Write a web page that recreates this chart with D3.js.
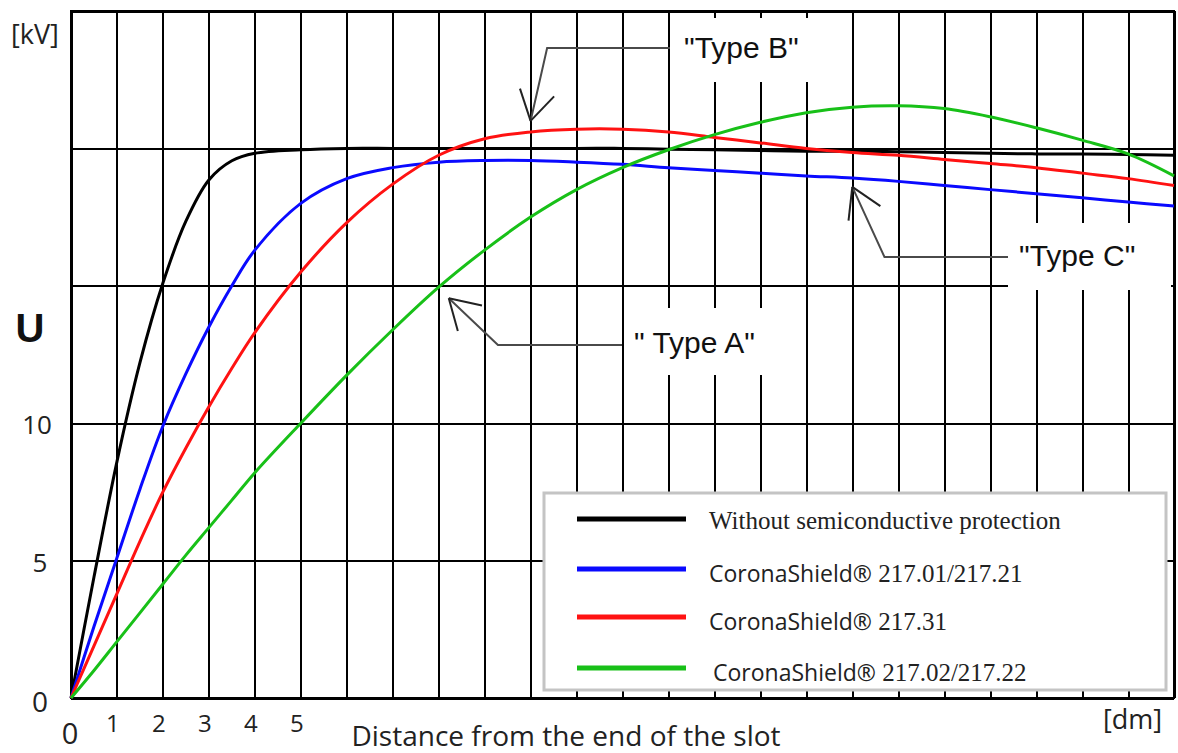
<!DOCTYPE html>
<html>
<head>
<meta charset="utf-8">
<script src="https://cdnjs.cloudflare.com/ajax/libs/d3/7.8.5/d3.min.js"></script>
<style>
  body { margin: 0; background: #fff; }
  svg { display: block; }
</style>
</head>
<body>
<div id="chart"></div>
<script>
// values: distance in dm, U in kV
var distance = [0, 0.5, 1, 1.5, 2, 2.5, 3, 3.5, 4, 5, 6, 7, 8, 9, 10, 11, 12, 13, 14, 15, 16, 17, 18, 19, 20, 21, 22, 23, 24];
var noProtection = [0, 4.4, 8.6, 12.2, 15.1, 17.35, 18.85, 19.55, 19.82, 19.95, 20.0, 20.0, 20.0, 20.0, 20.0, 20.0, 20.0, 19.97, 19.95, 19.92, 19.9, 19.9, 19.88, 19.85, 19.82, 19.8, 19.8, 19.78, 19.75];
var cs217_01 = [0, 2.6, 5.1, 7.6, 9.9, 11.8, 13.5, 15.0, 16.3, 18.0, 18.9, 19.3, 19.5, 19.56, 19.56, 19.5, 19.42, 19.3, 19.2, 19.1, 19.0, 18.92, 18.8, 18.65, 18.5, 18.35, 18.2, 18.05, 17.9];
var cs217_31 = [0, 1.9, 3.8, 5.7, 7.5, 9.1, 10.6, 12.0, 13.3, 15.5, 17.3, 18.7, 19.75, 20.35, 20.6, 20.7, 20.7, 20.6, 20.4, 20.2, 20.0, 19.85, 19.75, 19.6, 19.45, 19.3, 19.1, 18.9, 18.65];
var cs217_02 = [0, 1.0, 2.05, 3.1, 4.15, 5.2, 6.2, 7.2, 8.2, 10.0, 11.75, 13.4, 14.95, 16.3, 17.5, 18.5, 19.3, 19.95, 20.5, 20.95, 21.3, 21.5, 21.55, 21.45, 21.15, 20.75, 20.3, 19.8, 19.0];

var seriesNames = ["Without semiconductive protection", "CoronaShield® 217.01/217.21", "CoronaShield® 217.31", "CoronaShield® 217.02/217.22"];
var xTickLabels = ["0", "1", "2", "3", "4", "5"];
var yTickLabels = ["0", "5", "10"];
var typeLabels = ["\"Type B\"", "\"Type C\"", "\" Type A\""];

var seriesValues = [noProtection, cs217_01, cs217_31, cs217_02];
var seriesColors = ["#000000", "#0a0aff", "#ff1212", "#18c018"];

// svg size
var svgWidth = 1178;
var svgHeight = 753;

// plot frame
var frame = { left: 71, top: 11, right: 1174, bottom: 698 };

var svg = d3.select("#chart").append("svg")
    .attr("width", svgWidth)
    .attr("height", svgHeight);

var xScale = d3.scaleLinear()
    .domain([0, 24])
    .range([frame.left, frame.right]);

var yScale = d3.scaleLinear()
    .domain([0, 25])
    .range([frame.bottom, frame.top]);

// vertical grid, one line per dm
var xGrid = svg.append("g")
    .attr("transform", `translate(0, ${frame.bottom})`)
    .call(d3.axisBottom(xScale).ticks(24).tickSize(-(frame.bottom - frame.top)).tickFormat(""));

// horizontal grid, every 5 kV
var yGrid = svg.append("g")
    .attr("transform", `translate(${frame.left}, 0)`)
    .call(d3.axisLeft(yScale).tickValues(d3.range(0, 26, 5)).tickSize(-(frame.right - frame.left)).tickFormat(""));

[xGrid, yGrid].forEach(function(g) {
  g.select(".domain").remove();
  g.selectAll("line")
      .attr("stroke", "#000")
      .attr("stroke-width", 2)
      .attr("shape-rendering", "crispEdges");
});

svg.append("rect")
    .attr("x", frame.left)
    .attr("y", frame.top)
    .attr("width", frame.right - frame.left)
    .attr("height", frame.bottom - frame.top)
    .attr("fill", "none")
    .attr("stroke", "#000")
    .attr("stroke-width", 2)
    .attr("shape-rendering", "crispEdges");

// white patches behind the annotation texts
var patches = [[674, 18, 166, 64], [1008, 223, 163, 67], [625, 308, 165, 67]];
svg.selectAll("rect.patch")
    .data(patches)
    .enter()
    .append("rect")
    .classed("patch", true)
    .attr("x", d => d[0])
    .attr("y", d => d[1])
    .attr("width", d => d[2])
    .attr("height", d => d[3])
    .attr("fill", "#fff");

// curves
var line = d3.line()
    .x((d, i) => xScale(distance[i]))
    .y(d => yScale(d))
    .curve(d3.curveCatmullRom.alpha(0.5));

svg.selectAll("path.curve")
    .data(seriesValues)
    .enter()
    .append("path")
    .classed("curve", true)
    .attr("d", d => line(d))
    .attr("fill", "none")
    .attr("stroke", (d, i) => seriesColors[i])
    .attr("stroke-width", 3)
    .attr("stroke-linejoin", "round");

// legend
var legend = svg.append("g");
legend.append("rect")
    .attr("x", 544)
    .attr("y", 493)
    .attr("width", 622)
    .attr("height", 197)
    .attr("fill", "#fff")
    .attr("stroke", "#c4c4c4")
    .attr("stroke-width", 3);

var legendY = [519, 569, 617, 668];
legend.selectAll("line.key")
    .data(seriesNames)
    .enter()
    .append("line")
    .classed("key", true)
    .attr("x1", 577)
    .attr("x2", 686)
    .attr("y1", (d, i) => legendY[i])
    .attr("y2", (d, i) => legendY[i])
    .attr("stroke", (d, i) => seriesColors[i])
    .attr("stroke-width", 5);

var legendText = legend.selectAll("text.key")
    .data(seriesNames)
    .enter()
    .append("text")
    .classed("key", true)
    .attr("x", (d, i) => i == 3 ? 713 : 709)
    .attr("y", (d, i) => legendY[i] + (i == 0 ? 10 : 13))
    .attr("fill", "#222");

legendText.each(function(d) {
  var t = d3.select(this);
  if (d.indexOf("CoronaShield®") == 0) {
    t.append("tspan")
        .attr("font-family", "'Open Sans', sans-serif")
        .attr("font-size", "23px")
        .text("CoronaShield®");
    t.append("tspan")
        .attr("font-family", "'Liberation Serif', serif")
        .attr("font-size", "25px")
        .text(d.replace("CoronaShield®", ""));
  } else {
    t.attr("font-family", "'Liberation Serif', serif")
        .attr("font-size", "25px")
        .text(d);
  }
});

// annotations: arrow tip and elbow in data units, text start in pixels
var notes = [
  { tip: [10, 21.0], elbow: [10.36, 23.65], end: 670, tx: 684, ty: 58 },
  { tip: [17, 18.6], elbow: [17.7, 16.05], end: 1008, tx: 1019, ty: 266 },
  { tip: [8.22, 14.55], elbow: [9.29, 12.85], end: 622, tx: 634, ty: 353 }
];

notes.forEach(function(n, i) {
  var tx = xScale(n.tip[0]), ty = yScale(n.tip[1]);
  var ex = xScale(n.elbow[0]), ey = yScale(n.elbow[1]);
  svg.append("path")
      .attr("d", `M${n.end},${ey}L${ex},${ey}L${tx},${ty}`)
      .attr("fill", "none")
      .attr("stroke", "#4a4a4a")
      .attr("stroke-width", 2);
  // open arrow head
  var ang = Math.atan2(ey - ty, ex - tx);
  var len = 34, spread = 31 * Math.PI / 180;
  [-spread, spread].forEach(function(s) {
    svg.append("line")
        .attr("x1", tx)
        .attr("y1", ty)
        .attr("x2", tx + len * Math.cos(ang + s))
        .attr("y2", ty + len * Math.sin(ang + s))
        .attr("stroke", "#222")
        .attr("stroke-width", 2);
  });
  svg.append("text")
      .attr("x", n.tx)
      .attr("y", n.ty)
      .attr("font-family", "'Liberation Sans', Arial, sans-serif")
      .attr("font-size", "30px")
      .attr("fill", "#111")
      .text(typeLabels[i]);
});

// tick labels
var labelFont = "'Open Sans', sans-serif";
svg.selectAll("text.ytick")
    .data(yTickLabels)
    .enter()
    .append("text")
    .classed("ytick", true)
    .attr("x", d => d == "10" ? 37 : 40)
    .attr("y", d => yScale(+d) + (d == "0" ? 14 : 11))
    .attr("text-anchor", "middle")
    .attr("font-family", labelFont)
    .attr("font-size", d => d == "0" ? "28px" : "26px")
    .attr("fill", "#222")
    .text(d => d);

svg.selectAll("text.xtick")
    .data(xTickLabels)
    .enter()
    .append("text")
    .classed("xtick", true)
    .attr("x", d => d == "0" ? xScale(0) - 1 : xScale(+d) - 4)
    .attr("y", d => d == "0" ? 744 : 732)
    .attr("text-anchor", "middle")
    .attr("font-family", labelFont)
    .attr("font-size", d => d == "0" ? "29px" : "24px")
    .attr("fill", "#222")
    .text(d => d);

// axis titles and units
svg.append("text")
    .attr("x", 11)
    .attr("y", 44)
    .attr("font-family", labelFont)
    .attr("font-size", "27px")
    .attr("fill", "#222")
    .text("[kV]");

svg.append("text")
    .attr("x", 30)
    .attr("y", 342)
    .attr("text-anchor", "middle")
    .attr("font-family", "'Liberation Sans', Arial, sans-serif")
    .attr("font-weight", "bold")
    .attr("font-size", "40px")
    .attr("fill", "#111")
    .text("U");

svg.append("text")
    .attr("x", 1103)
    .attr("y", 729)
    .attr("font-family", labelFont)
    .attr("font-size", "27px")
    .attr("fill", "#222")
    .text("[dm]");

svg.append("text")
    .attr("x", 566)
    .attr("y", 746)
    .attr("text-anchor", "middle")
    .attr("font-family", labelFont)
    .attr("font-size", "28px")
    .attr("fill", "#222")
    .text("Distance from the end of the slot");
</script>
</body>
</html>
